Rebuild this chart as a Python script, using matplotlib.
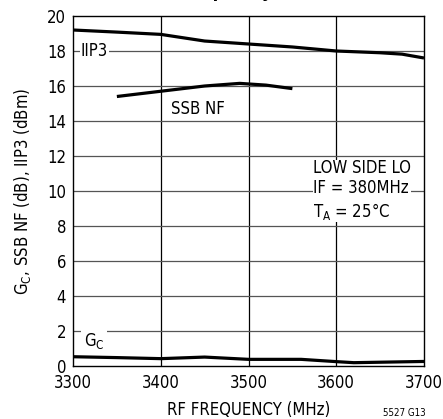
import matplotlib
matplotlib.use('Agg')
import matplotlib.pyplot as plt

plt.rcParams['font.family'] = ['DejaVu Sans']
plt.rcParams['font.stretch'] = 'condensed'
plt.rcParams['mathtext.fontset'] = 'dejavusans'

# IIP3 (dBm)
iip3_f = [3300, 3350, 3400, 3450, 3500, 3550, 3600, 3650, 3675, 3700]
iip3 = [19.2, 19.08, 18.95, 18.57, 18.4, 18.23, 18.0, 17.9, 17.82, 17.6]

# SSB NF (dB)
nf_f = [3350, 3400, 3450, 3490, 3520, 3550]
nf = [15.4, 15.7, 16.0, 16.15, 16.05, 15.85]

# Conversion gain Gc (dB)
gc_f = [3300, 3350, 3400, 3450, 3500, 3560, 3600, 3620, 3700]
gc = [0.53, 0.48, 0.42, 0.51, 0.38, 0.38, 0.25, 0.19, 0.26]

xticks = [3300, 3400, 3500, 3600, 3700]
yticks = list(range(0, 21, 2))

fig = plt.figure(figsize=(4.43, 4.19), dpi=100)
ax = fig.add_axes([73/443, 53/419, 351/443, 350/419])

ax.plot(iip3_f, iip3, color='black', lw=2.3, solid_capstyle='butt')
ax.plot(nf_f, nf, color='black', lw=2.3, solid_capstyle='butt')
ax.plot(gc_f, gc, color='black', lw=2.3, solid_capstyle='butt')

ax.set_xlim(3300, 3700)
ax.set_ylim(0, 20)
ax.set_xticks(xticks)
ax.set_yticks(yticks)
ax.tick_params(axis='y', length=0, labelsize=12, pad=5)
ax.tick_params(axis='x', length=0, labelsize=12, pad=6)
for x in xticks[1:-1]:
    ax.axvline(x, color='black', lw=0.9, zorder=0)
for y in yticks[1:-1]:
    ax.axhline(y, color='#555555', lw=0.9, zorder=0)
for s in ax.spines.values():
    s.set_linewidth(1.0)
    s.set_zorder(5)

box = dict(facecolor='white', edgecolor='none', pad=1)
ax.text(3309, 18, 'IIP3', fontsize=12, va='center', ha='left', bbox=box)
ax.text(3412, 14.7, 'SSB NF', fontsize=12, va='center', ha='left')
ax.text(3312, 1.45, 'G$_\\mathregular{C}$', fontsize=12, va='center', ha='left',
        bbox=dict(facecolor='white', edgecolor='none', pad=2))
ax.text(3574, 10.05, 'LOW SIDE LO\nIF = 380MHz\nT$_\\mathregular{A}$ = 25\u00b0C', fontsize=12,
        va='center', ha='left', linespacing=1.2,
        bbox=dict(facecolor='white', edgecolor='none', pad=0))

ax.set_xlabel('RF FREQUENCY (MHz)', fontsize=12, labelpad=6)
ax.set_ylabel('G$_\\mathregular{C}$, SSB NF (dB), IIP3 (dBm)', fontsize=12, labelpad=10)
fig.text(404/443, 6/419, '5527 G13', fontsize=7, ha='center', va='center')
fig.text(272/443, 1.0 + 3/419, 'Gain, NF and IIP3 vs RF Frequency', fontsize=13,
         fontweight='bold', ha='right', va='baseline')

fig.savefig('out.png', dpi=100)
